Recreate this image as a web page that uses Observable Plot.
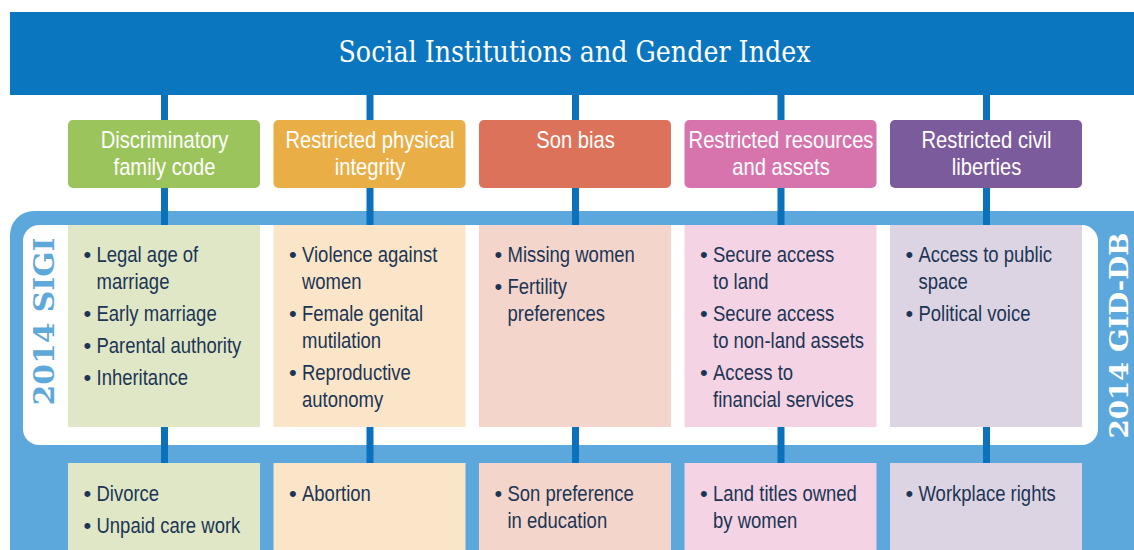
<!DOCTYPE html>
<html><head><meta charset="utf-8">
<script src="https://cdn.jsdelivr.net/npm/d3@7"></script>
<script src="https://cdn.jsdelivr.net/npm/@observablehq/plot@0.6"></script>
<style>body{margin:0;background:#fff}</style>
</head><body><div id="chart"></div>
<script>
// ---- data ----
const title = "Social Institutions and Gender Index";
const categories = ["Discriminatory\nfamily code", "Restricted physical\nintegrity", "Son bias", "Restricted resources\nand assets", "Restricted civil\nliberties"];
const categoryColors = ["#9cc45c", "#eaae47", "#dc725a", "#d774ad", "#7c5b9c"];
const lightColors = ["#dfe7c7", "#fbe5c9", "#f3d5cc", "#f3d3e4", "#ddd4e3"];
const sigiItems = [
  ["Legal age of\nmarriage", "Early marriage", "Parental authority", "Inheritance"],
  ["Violence against\nwomen", "Female genital\nmutilation", "Reproductive\nautonomy"],
  ["Missing women", "Fertility\npreferences"],
  ["Secure access\nto land", "Secure access\nto non-land assets", "Access to\nfinancial services"],
  ["Access to public\nspace", "Political voice"]
];
const gidItems = [
  ["Divorce", "Unpaid care work"],
  ["Abortion"],
  ["Son preference\nin education"],
  ["Land titles owned\nby women"],
  ["Workplace rights"]
];
const leftLabel = "2014 SIGI";
const rightLabel = "2014 GID-DB";

// ---- layout ----
const W = 1134, H = 550;
const colLeft = i => 68 + i * 205.5;
const colW = 192;
const colMid = i => colLeft(i) + colW / 2;
const sans = "'Liberation Sans', Arial, sans-serif";
const serif = "'DejaVu Serif', 'Liberation Serif', serif";
const navy = "#1c3554";
const darkBlue = "#0a76c0";
const lightBlue = "#5ca7db";

const cols = categories.map((c, i) => ({i, x1: colLeft(i), x2: colLeft(i) + colW, mid: colMid(i), color: categoryColors[i], light: lightColors[i]}));

const catLines = categories.flatMap((c, i) => c.split("\n").map((t, k) => ({t, x: colMid(i), y: 140 + k * 26.5})));

function bulletLines(items, top) {
  const out = [];
  items.forEach((its, i) => {
    let y = top;
    its.forEach(it => {
      it.split("\n").forEach((t, k) => {
        out.push({t, x: colLeft(i) + 28, y, bullet: k === 0, bx: colLeft(i) + 15});
        y += 27;
      });
      y += 5;
    });
  });
  return out;
}
const upper = bulletLines(sigiItems, 254);
const lower = bulletLines(gidItems, 493);
const allLines = upper.concat(lower);

const plot = Plot.plot({
  width: W, height: H, margin: 0,
  x: {domain: [0, W], range: [0, W], axis: null},
  y: {domain: [0, H], range: [0, H], axis: null},
  style: {background: "white", overflow: "hidden"},
  marks: [
    Plot.rect([title], {x1: 10, x2: W, y1: 12, y2: 95, fill: darkBlue}),
    Plot.rect([rightLabel], {x1: 10, x2: W + 60, y1: 211, y2: H + 60, fill: lightBlue, rx: 24}),
    Plot.rect([leftLabel], {x1: 23, x2: 1098, y1: 225, y2: 445, fill: "white", rx: 16}),
    Plot.ruleX(cols, {x: "mid", y1: 95, y2: 463, stroke: "#0b71bb", strokeWidth: 7}),
    Plot.rect(cols, {x1: "x1", x2: "x2", y1: 120, y2: 188, fill: "color", rx: 5}),
    Plot.rect(cols, {x1: "x1", x2: "x2", y1: 225, y2: 427, fill: "light"}),
    Plot.rect(cols, {x1: "x1", x2: "x2", y1: 463, y2: H + 10, fill: "light"}),
    Plot.text([title], {x: W / 2 + 7, y: 52, text: d => d, fill: "white", fontSize: 30, fontFamily: serif}),
    Plot.text(catLines, {x: "x", y: "y", text: "t", fill: "white", fontSize: 24, fontFamily: sans}),
    Plot.text(allLines.filter(d => d.bullet), {x: "bx", y: "y", text: d => "•", fill: navy, fontSize: 22, fontFamily: sans, textAnchor: "start"}),
    Plot.text(allLines, {x: "x", y: "y", text: "t", fill: navy, fontSize: 22, fontFamily: sans, textAnchor: "start"}),
    Plot.text([leftLabel], {x: 45, y: 321, text: d => d, rotate: -90, fill: "#5fa8da", fontSize: 28, fontWeight: "bold", fontFamily: serif}),
    Plot.text([rightLabel], {x: 1119, y: 335, text: d => d, rotate: -90, fill: "white", fontSize: 26, fontWeight: "bold", fontFamily: serif})
  ]
});
document.getElementById("chart").appendChild(plot);
const fit = {[title]: 472, [leftLabel]: 168, [rightLabel]: 206};
plot.querySelectorAll("text").forEach(t => {
  const s = t.textContent;
  let len = null;
  if (fit[s]) len = fit[s];
  else if (s !== "•" && s.length > 1) len = t.getComputedTextLength() * 0.84;
  if (len) { t.setAttribute("textLength", len); t.setAttribute("lengthAdjust", "spacingAndGlyphs"); }
});
</script></body></html>
